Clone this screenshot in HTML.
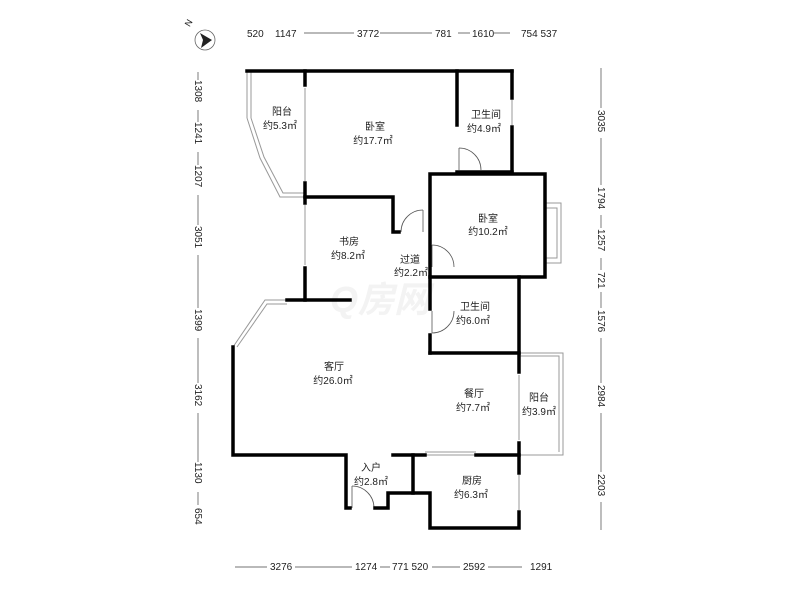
<!DOCTYPE html>
<html><head><meta charset="utf-8"><style>
body{margin:0;background:#fff;}
svg text{font-family:"Liberation Sans","Noto Sans CJK SC",sans-serif;fill:#222;}
</style></head><body>
<svg width="800" height="600" viewBox="0 0 800 600" xmlns="http://www.w3.org/2000/svg">
<rect width="800" height="600" fill="#fff"/>
<!-- compass -->
<circle cx="205" cy="40" r="10" fill="none" stroke="#666" stroke-width="0.8"/>
<polygon points="212,40 200,33 203,40 201,48" fill="#222"/>
<text x="186" y="27" font-size="9" transform="rotate(-60 188 24)">N</text>
<!-- watermark -->
<text x="330" y="312" font-size="36" font-style="italic" font-weight="bold" style="fill:#f3f3f3">Q房网</text>
<!-- dimension lines -->
<g stroke="#444" stroke-width="0.7">
<line x1="268" y1="33" x2="510" y2="33"/>
<line x1="235" y1="567" x2="560" y2="567"/>
<line x1="198" y1="72" x2="198" y2="525"/>
<line x1="601" y1="68" x2="601" y2="530"/>
</g>
<g font-size="10" fill="#333">
<g fill="#fff"><rect x="244" y="26" width="60" height="12"/><rect x="354" y="26" width="26" height="12"/><rect x="432" y="26" width="26" height="12"/><rect x="470" y="26" width="24" height="12"/><rect x="518" y="26" width="45" height="12"/>
<rect x="267" y="560" width="28" height="12"/><rect x="352" y="560" width="28" height="12"/><rect x="390" y="560" width="42" height="12"/><rect x="460" y="560" width="28" height="12"/><rect x="522" y="560" width="38" height="12"/></g>
<text x="247" y="37">520</text>
<text x="275" y="37">1147</text>
<text x="357" y="37">3772</text>
<text x="435" y="37">781</text>
<text x="472" y="37">1610</text>
<text x="521" y="37">754 537</text>
<text x="270" y="570">3276</text>
<text x="355" y="570">1274</text>
<text x="392" y="570">771 520</text>
<text x="463" y="570">2592</text>
<text x="530" y="570">1291</text>
</g>
<!-- gray windows/thin -->
<g stroke="#999" stroke-width="1" fill="none">
<line x1="247" y1="71" x2="247" y2="118"/><line x1="251" y1="71" x2="251" y2="118"/>
<polyline points="247,118 260,158 280,197 305,197"/>
<polyline points="251,118 264,157 283,193 305,193"/>
<line x1="305" y1="88" x2="305" y2="181"/>
<line x1="512" y1="100" x2="512" y2="125"/>
<line x1="305" y1="205" x2="305" y2="265"/>
<polyline points="545,203 561,203 561,263 545,263"/>
<polyline points="545,208 557,208 557,258 545,258"/>
<polyline points="233,347 265,300 287,300"/><polyline points="237,347 267,304 287,304"/>
<line x1="519" y1="300" x2="519" y2="330"/>
<polyline points="519,353 563,353 563,455 519,455"/><polyline points="519,356 559,356 559,452"/>
<line x1="519" y1="375" x2="519" y2="440"/>
<line x1="425" y1="455" x2="476" y2="455"/><line x1="425" y1="452" x2="476" y2="452"/>
<line x1="519" y1="475" x2="519" y2="510"/>
</g>
<!-- doors -->
<g stroke="#555" stroke-width="0.8" fill="none">
<path d="M459,148 A22,22 0 0 1 481,170"/><line x1="459" y1="148" x2="459" y2="170"/>
<path d="M401,232 A22,22 0 0 1 423,210"/><line x1="423" y1="210" x2="423" y2="232"/>
<path d="M432,245 A22,22 0 0 1 454,267"/><line x1="432" y1="245" x2="432" y2="267"/>
<path d="M432,333 A22,22 0 0 0 454,311"/><line x1="432" y1="311" x2="432" y2="333"/>
<path d="M352,486 A22,22 0 0 1 374,508"/><line x1="352" y1="486" x2="352" y2="508"/>
</g>
<!-- walls -->
<g stroke="#000" stroke-width="3.5" fill="none" stroke-linecap="square">
<line x1="247" y1="71" x2="512" y2="71"/>
<line x1="305" y1="71" x2="305" y2="85"/>
<line x1="305" y1="183" x2="305" y2="203"/>
<line x1="305" y1="268" x2="305" y2="300"/>
<line x1="457" y1="71" x2="457" y2="125"/>
<line x1="512" y1="71" x2="512" y2="98"/><line x1="512" y1="127" x2="512" y2="172"/>
<line x1="457" y1="172" x2="512" y2="172"/>
<polyline points="305,197 393,197 393,232 399,232"/>
<rect x="430" y="174" width="115" height="103"/>
<line x1="430" y1="277" x2="430" y2="309"/><line x1="430" y1="335" x2="430" y2="353"/>
<polyline points="430,353 519,353 519,277"/>
<line x1="287" y1="300" x2="350" y2="300"/>
<polyline points="233,347 233,455 346,455 346,508 350,508"/>
<polyline points="375,508 388,508 388,493 430,493 430,528 519,528 519,512"/>
<line x1="519" y1="353" x2="519" y2="372"/><line x1="519" y1="443" x2="519" y2="473"/>
<line x1="393" y1="455" x2="425" y2="455"/><line x1="476" y1="455" x2="519" y2="455"/>
<line x1="413" y1="455" x2="413" y2="493"/>
</g>
<!-- room labels -->
<g font-size="10" text-anchor="middle">
<text x="282" y="115">阳台</text><text x="280" y="129">约5.3㎡</text>
<text x="375" y="130">卧室</text><text x="373" y="144">约17.7㎡</text>
<text x="486" y="118">卫生间</text><text x="484" y="132">约4.9㎡</text>
<text x="488" y="222">卧室</text><text x="488" y="235">约10.2㎡</text>
<text x="349" y="245">书房</text><text x="348" y="259">约8.2㎡</text>
<text x="410" y="263">过道</text><text x="411" y="276">约2.2㎡</text>
<text x="475" y="310">卫生间</text><text x="473" y="324">约6.0㎡</text>
<text x="334" y="370">客厅</text><text x="333" y="384">约26.0㎡</text>
<text x="474" y="397">餐厅</text><text x="473" y="411">约7.7㎡</text>
<text x="539" y="401">阳台</text><text x="539" y="415">约3.9㎡</text>
<text x="371" y="471">入户</text><text x="371" y="485">约2.8㎡</text>
<text x="472" y="484">厨房</text><text x="471" y="498">约6.3㎡</text>
</g>
<g font-size="10" fill="#333">
<g transform="translate(195,0)">
<rect x="-3" y="80" width="10" height="30" fill="#fff"/><text transform="translate(0,80) rotate(90)">1308</text>
<rect x="-3" y="122" width="10" height="30" fill="#fff"/><text transform="translate(0,122) rotate(90)">1241</text>
<rect x="-3" y="165" width="10" height="30" fill="#fff"/><text transform="translate(0,165) rotate(90)">1207</text>
<rect x="-3" y="225" width="10" height="30" fill="#fff"/><text transform="translate(0,226) rotate(90)">3051</text>
<rect x="-3" y="308" width="10" height="30" fill="#fff"/><text transform="translate(0,309) rotate(90)">1399</text>
<rect x="-3" y="383" width="10" height="30" fill="#fff"/><text transform="translate(0,384) rotate(90)">3162</text>
<rect x="-3" y="462" width="10" height="30" fill="#fff"/><text transform="translate(0,462) rotate(90)">1130</text>
<rect x="-3" y="505" width="10" height="30" fill="#fff"/><text transform="translate(0,508) rotate(90)">654</text>
</g>
<g transform="translate(598,0)">
<rect x="-3" y="108" width="10" height="30" fill="#fff"/><text transform="translate(0,110) rotate(90)">3035</text>
<rect x="-3" y="185" width="10" height="30" fill="#fff"/><text transform="translate(0,187) rotate(90)">1794</text>
<rect x="-3" y="228" width="10" height="30" fill="#fff"/><text transform="translate(0,229) rotate(90)">1257</text>
<rect x="-3" y="270" width="10" height="22" fill="#fff"/><text transform="translate(0,272) rotate(90)">721</text>
<rect x="-3" y="308" width="10" height="30" fill="#fff"/><text transform="translate(0,310) rotate(90)">1576</text>
<rect x="-3" y="383" width="10" height="30" fill="#fff"/><text transform="translate(0,385) rotate(90)">2984</text>
<rect x="-3" y="472" width="10" height="30" fill="#fff"/><text transform="translate(0,474) rotate(90)">2203</text>
</g>
</g>
</svg>
</body></html>
